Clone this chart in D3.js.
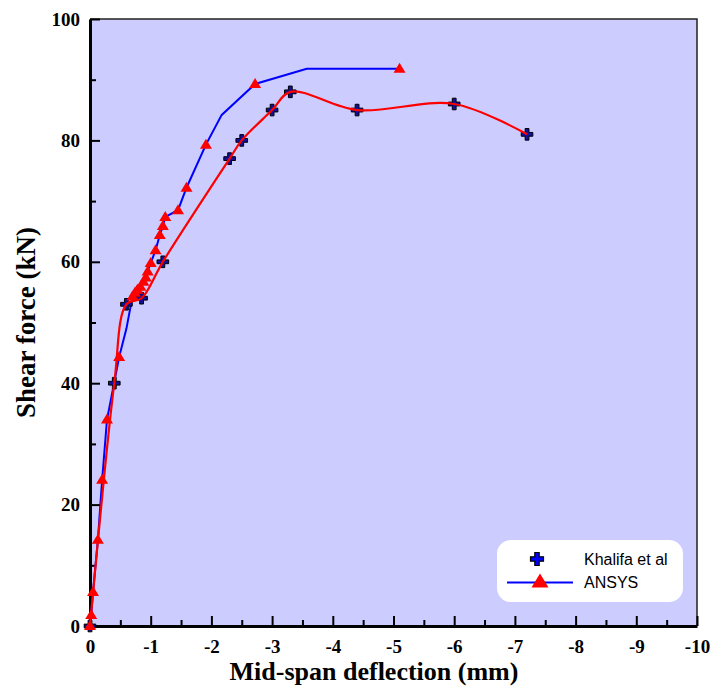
<!DOCTYPE html>
<html>
<head>
<meta charset="utf-8">
<script src="https://cdn.jsdelivr.net/npm/d3@7"></script>
<style>
  body { margin: 0; background: #fff; }
  .tick text { font-family: "Liberation Serif", "Times New Roman", serif; font-weight: bold; font-size: 19px; fill: #000; }
</style>
</head>
<body>
<div id="chart"></div>
<script>
// Khalifa et al (experiment) - crosses with red smooth curve
const khalifaX = [0, -0.4, -0.6, -0.85, -1.2, -2.3, -2.5, -3.0, -3.3, -4.4, -6.0, -7.2];
const khalifaY = [0, 40, 53, 54, 60, 77, 80, 85, 88, 85, 86, 81];

// ANSYS - blue polyline, red triangles (0 = vertex without a symbol)
const ansysX = [0, -0.02, -0.05, -0.13, -0.2, -0.28, -0.48, -0.6, -0.70, -0.74, -0.78, -0.83, -0.88, -0.92, -0.95, -1.00, -1.08, -1.15, -1.20, -1.24, -1.45, -1.59, -1.91, -2.17, -2.72, -3.57, -5.1];
const ansysY = [0, 1.8, 5.6, 14.2, 24.1, 34, 44.3, 49, 54.3, 54.9, 55.4, 55.9, 56.7, 57.4, 58.4, 59.8, 61.9, 64.4, 65.9, 67.4, 68.5, 72.2, 79.3, 84.2, 89.3, 91.8, 91.8];
const ansysMark = [1, 1, 1, 1, 1, 1, 1, 0, 1, 1, 1, 1, 1, 1, 1, 1, 1, 1, 1, 1, 1, 1, 1, 0, 1, 0, 1];

const xMajor = d3.range(0, -10.5, -1);
const xMinor = d3.range(-0.5, -10, -1);
const yMajor = [0, 20, 40, 60, 80, 100];
const yMinor = [10, 30, 50, 70, 90];

const legendNames = ["Khalifa et al", "ANSYS"];

const width = 710, height = 687;
const pLeft = 90, pRight = 697, pTop = 19, pBottom = 626;

const svg = d3.select('#chart').append('svg')
  .attr('width', width)
  .attr('height', height)
  .style('display', 'block');

const x = d3.scaleLinear().domain([0, -10]).range([pLeft, pRight]);
const y = d3.scaleLinear().domain([0, 100]).range([pBottom, pTop]);

// plot background
svg.append('rect')
  .attr('x', pLeft).attr('y', pTop)
  .attr('width', pRight - pLeft).attr('height', pBottom - pTop)
  .attr('fill', '#ccccff');

// top and right frame
svg.append('path')
  .attr('d', `M${pLeft},${pTop}H${pRight}V${pBottom}`)
  .attr('fill', 'none')
  .attr('stroke', '#222')
  .attr('stroke-width', 1.5);

// axes (ticks point inward)
svg.append('g').attr('transform', `translate(0,${pBottom})`)
  .call(d3.axisBottom(x).tickValues(xMajor).tickFormat(d => String(d)).tickSizeInner(-10).tickSizeOuter(0).tickPadding(14));
svg.append('g').attr('transform', `translate(0,${pBottom})`)
  .call(d3.axisBottom(x).tickValues(xMinor).tickFormat('').tickSizeInner(-6).tickSizeOuter(0))
  .select('.domain').remove();

svg.append('g').attr('transform', `translate(${pLeft},0)`)
  .call(d3.axisLeft(y).tickValues(yMajor).tickSizeInner(-10).tickSizeOuter(0).tickPadding(10));
svg.append('g').attr('transform', `translate(${pLeft},0)`)
  .call(d3.axisLeft(y).tickValues(yMinor).tickFormat('').tickSizeInner(-6).tickSizeOuter(0))
  .select('.domain').remove();

svg.selectAll('.domain').attr('stroke', '#000').attr('stroke-width', 3);
svg.selectAll('.tick line').attr('stroke', '#000').attr('stroke-width', 2);

// axis titles
svg.append('text')
  .attr('x', 374).attr('y', 680)
  .attr('text-anchor', 'middle')
  .style('font-family', '"Liberation Serif", "Times New Roman", serif')
  .style('font-weight', 'bold')
  .style('font-size', '26px')
  .text('Mid-span deflection (mm)');

svg.append('text')
  .attr('transform', `translate(35,${(pTop + pBottom) / 2}) rotate(-90)`)
  .attr('text-anchor', 'middle')
  .style('font-family', '"Liberation Serif", "Times New Roman", serif')
  .style('font-weight', 'bold')
  .style('font-size', '27px')
  .text('Shear force (kN)');

const khalifa = khalifaX.map((v, i) => ({ x: v, y: khalifaY[i] }));
const ansys = ansysX.map((v, i) => ({ x: v, y: ansysY[i], m: ansysMark[i] }));

const crossPath = (s, w) => `M${-w},${-s}H${w}V${-w}H${s}V${w}H${w}V${s}H${-w}V${w}H${-s}V${-w}H${-w}Z`;
const triPath = (w, h) => `M0,${-h * 0.6}L${w / 2},${h * 0.4}L${-w / 2},${h * 0.4}Z`;

// ANSYS line
svg.append('path')
  .datum(ansys)
  .attr('d', d3.line().x(d => x(d.x)).y(d => y(d.y)))
  .attr('fill', 'none')
  .attr('stroke', '#0000ff')
  .attr('stroke-width', 2);

// Khalifa crosses
svg.selectAll('.cross')
  .data(khalifa)
  .enter().append('path')
  .attr('class', 'cross')
  .attr('transform', d => `translate(${x(d.x)},${y(d.y)})`)
  .attr('d', crossPath(5.8, 1.9))
  .attr('fill', '#10109a')
  .attr('stroke', '#000')
  .attr('stroke-width', 1);

// Khalifa smooth curve
svg.append('path')
  .datum(khalifa)
  .attr('d', d3.line().curve(d3.curveCatmullRom.alpha(0.5)).x(d => x(d.x)).y(d => y(d.y)))
  .attr('fill', 'none')
  .attr('stroke', '#ff0000')
  .attr('stroke-width', 2.2);

// ANSYS triangles
svg.selectAll('.tri')
  .data(ansys.filter(d => d.m))
  .enter().append('path')
  .attr('class', 'tri')
  .attr('transform', d => `translate(${x(d.x)},${y(d.y)})`)
  .attr('d', triPath(12, 10))
  .attr('fill', '#ff0000');

// legend
const lg = svg.append('g').attr('transform', 'translate(497,540)');
lg.append('rect')
  .attr('width', 186).attr('height', 62)
  .attr('rx', 14)
  .attr('fill', '#fff');
lg.append('path')
  .attr('transform', 'translate(40,19)')
  .attr('d', crossPath(6.5, 2.2))
  .attr('fill', '#0000ff')
  .attr('stroke', '#000')
  .attr('stroke-width', 1.2);
lg.append('line')
  .attr('x1', 10).attr('x2', 76).attr('y1', 42.5).attr('y2', 42.5)
  .attr('stroke', '#0000ff').attr('stroke-width', 2);
lg.append('path')
  .attr('transform', 'translate(43,42)')
  .attr('d', triPath(17, 14))
  .attr('fill', '#ff0000');
lg.selectAll('.lt')
  .data(legendNames)
  .enter().append('text')
  .attr('x', 87)
  .attr('y', (d, i) => 25 + i * 23)
  .style('font-family', '"Liberation Sans", Arial, sans-serif')
  .style('font-size', '16px')
  .text(d => d);
</script>
</body>
</html>
